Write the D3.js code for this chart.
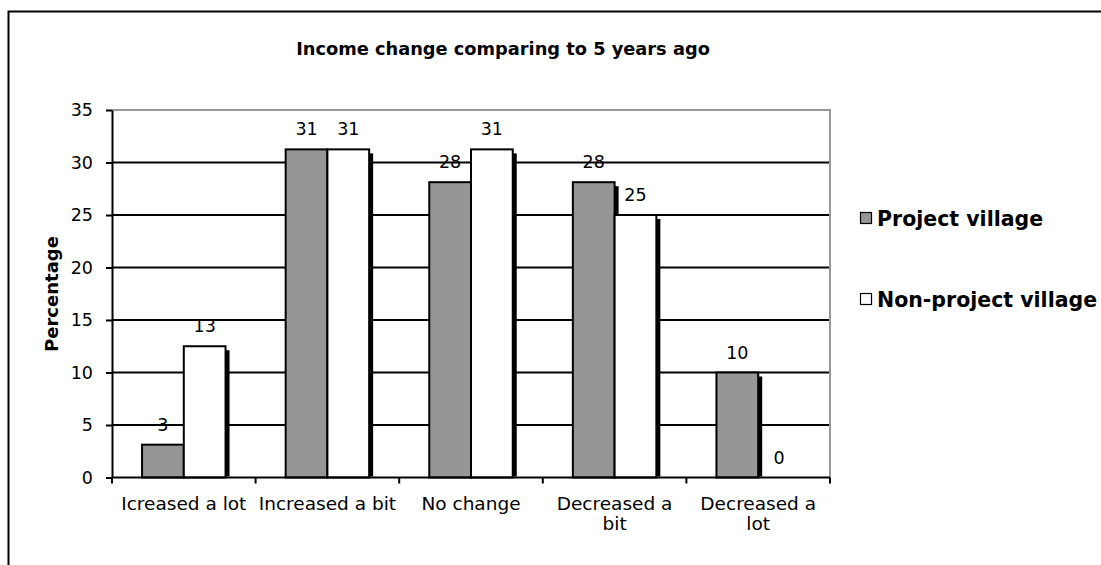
<!DOCTYPE html>
<html>
<head>
<meta charset="utf-8">
<script src="https://cdn.jsdelivr.net/npm/d3@7"></script>
<style>
  html, body { margin: 0; padding: 0; background: #fff; }
  svg { display: block; font-family: "DejaVu Sans", Verdana, sans-serif; }
</style>
</head>
<body>
<svg id="chart" width="1101" height="565"></svg>
<script>
// Survey results: share of households by income change over the last 5 years
const categories = ["Icreased a lot", "Increased a bit", "No change", "Decreased a bit", "Decreased a lot"];
const seriesNames = ["Project village", "Non-project village"];
const projectValues = [3.125, 31.25, 28.125, 28.125, 10];
const nonProjectValues = [12.5, 31.25, 31.25, 25, 0];
const yTicks = [0, 5, 10, 15, 20, 25, 30, 35];
const titleText = "Income change comparing to 5 years ago";
const yAxisTitle = "Percentage";

const seriesValues = [projectValues, nonProjectValues];
const seriesFill = ["#969696", "#ffffff"];

const svg = d3.select("#chart");

// Outer chart frame (runs past the right and bottom edges of the view)
svg.append("rect")
  .attr("x", 8.5).attr("y", 11.5)
  .attr("width", 1200).attr("height", 700)
  .attr("fill", "#fff").attr("stroke", "#000").attr("stroke-width", 2);

const plot = { left: 112, right: 830, top: 110, bottom: 477.5 };

const x = d3.scaleBand().domain(categories).range([plot.left, plot.right]).padding(0);
const xs = d3.scaleBand().domain(seriesNames).range([0, x.bandwidth()])
  .paddingInner(0).paddingOuter(0.72);
const y = d3.scaleLinear().domain([0, 35]).range([plot.bottom, plot.top]);

// Shadow filter and plot clip
const defs = svg.append("defs");
defs.append("filter").attr("id", "soft")
  .attr("x", "-20%").attr("y", "-20%").attr("width", "140%").attr("height", "140%")
  .append("feGaussianBlur").attr("stdDeviation", 0.7);
defs.append("clipPath").attr("id", "plotClip")
  .append("rect")
  .attr("x", plot.left).attr("y", plot.top - 2)
  .attr("width", plot.right - plot.left).attr("height", plot.bottom - plot.top + 1);

// Gridlines
svg.append("g")
  .selectAll("line")
  .data(yTicks.filter(t => t > 0 && t < 35))
  .join("line")
  .attr("x1", plot.left).attr("x2", plot.right)
  .attr("y1", d => y(d)).attr("y2", d => y(d))
  .attr("stroke", "#000").attr("stroke-width", 2);

// Plot border (top and right in gray)
svg.append("path")
  .attr("d", `M${plot.left},${y(35)}H${plot.right}V${plot.bottom}`)
  .attr("fill", "none").attr("stroke", "#999").attr("stroke-width", 2);

// Bars, each series with its drop shadow
const barsG = svg.append("g");
seriesNames.forEach((name, si) => {
  const vals = seriesValues[si];
  const data = categories.map((c, i) => ({ c, v: vals[i] }));
  barsG.append("g").attr("clip-path", "url(#plotClip)")
    .selectAll("rect")
    .data(data.filter(d => d.v > 0))
    .join("rect")
    .attr("x", d => x(d.c) + xs(name) + 4)
    .attr("y", d => y(d.v) + 4)
    .attr("width", xs.bandwidth())
    .attr("height", d => plot.bottom - y(d.v))
    .attr("fill", "#000")
    .attr("filter", "url(#soft)");
  barsG.append("g")
    .selectAll("rect")
    .data(data.filter(d => d.v > 0))
    .join("rect")
    .attr("x", d => x(d.c) + xs(name))
    .attr("y", d => y(d.v))
    .attr("width", xs.bandwidth())
    .attr("height", d => plot.bottom - y(d.v))
    .attr("fill", seriesFill[si])
    .attr("stroke", "#000").attr("stroke-width", 2);
});

// Y axis
const yAxis = svg.append("g")
  .attr("transform", `translate(${plot.left},0)`)
  .call(d3.axisLeft(y).tickValues(yTicks).tickSize(6).tickPadding(13).tickSizeOuter(0));
yAxis.select(".domain").attr("stroke", "#000").attr("stroke-width", 2);
yAxis.selectAll(".tick line").attr("stroke", "#000").attr("stroke-width", 2);
yAxis.selectAll(".tick text")
  .attr("font-family", "DejaVu Sans, Verdana, sans-serif")
  .attr("font-size", 17.5).attr("fill", "#000");

// X axis: baseline, boundary ticks, wrapped category labels
svg.append("line")
  .attr("x1", plot.left).attr("x2", plot.right)
  .attr("y1", plot.bottom).attr("y2", plot.bottom)
  .attr("stroke", "#000").attr("stroke-width", 2);
const boundaries = categories.map(c => x(c)).concat([x(categories[categories.length - 1]) + x.bandwidth()]);
svg.append("g").selectAll("line")
  .data(boundaries)
  .join("line")
  .attr("x1", d => d).attr("x2", d => d)
  .attr("y1", plot.bottom).attr("y2", plot.bottom + 6)
  .attr("stroke", "#000").attr("stroke-width", 2);

const xLabelG = svg.append("g")
  .attr("font-size", 18.5).attr("fill", "#000").attr("text-anchor", "middle");
categories.forEach(c => {
  const cx = x(c) + x.bandwidth() / 2;
  const t = xLabelG.append("text").attr("x", cx).attr("y", plot.bottom + 32);
  const words = c.split(" ");
  let line = [];
  let tspan = t.append("tspan").attr("x", cx).attr("dy", 0);
  words.forEach(w => {
    line.push(w);
    tspan.text(line.join(" "));
    if (tspan.node().getComputedTextLength() > x.bandwidth() - 2 && line.length > 1) {
      line.pop();
      tspan.text(line.join(" "));
      line = [w];
      tspan = t.append("tspan").attr("x", cx).attr("dy", 20).text(w);
    }
  });
});

// Value labels above each bar
const labelG = svg.append("g")
  .attr("font-size", 17.5).attr("fill", "#000").attr("text-anchor", "middle");
seriesNames.forEach((name, si) => {
  labelG.selectAll(null)
    .data(categories.map((c, i) => ({ c, v: seriesValues[si][i] })))
    .join("text")
    .attr("x", d => x(d.c) + xs(name) + xs.bandwidth() / 2)
    .attr("y", d => y(d.v) - 14)
    .text(d => Math.round(d.v));
});

// Title
svg.append("text")
  .attr("x", 503).attr("y", 55)
  .attr("text-anchor", "middle")
  .attr("font-size", 17.8).attr("font-weight", "bold")
  .text(titleText);

// Y axis title
svg.append("text")
  .attr("transform", `translate(58,294) rotate(-90)`)
  .attr("text-anchor", "middle")
  .attr("font-size", 18).attr("font-weight", "bold")
  .text(yAxisTitle);

// Legend
const legend = svg.append("g");
seriesNames.forEach((name, si) => {
  const ly = 218 + si * 81;
  legend.append("rect")
    .attr("x", 860.5).attr("y", ly - 5.5)
    .attr("width", 11).attr("height", 11)
    .attr("fill", seriesFill[si]).attr("stroke", "#000").attr("stroke-width", 1.2);
  legend.append("text")
    .attr("x", 877).attr("y", ly + 7.5)
    .attr("font-size", 20.5).attr("font-weight", "bold")
    .text(name);
});
</script>
</body>
</html>
